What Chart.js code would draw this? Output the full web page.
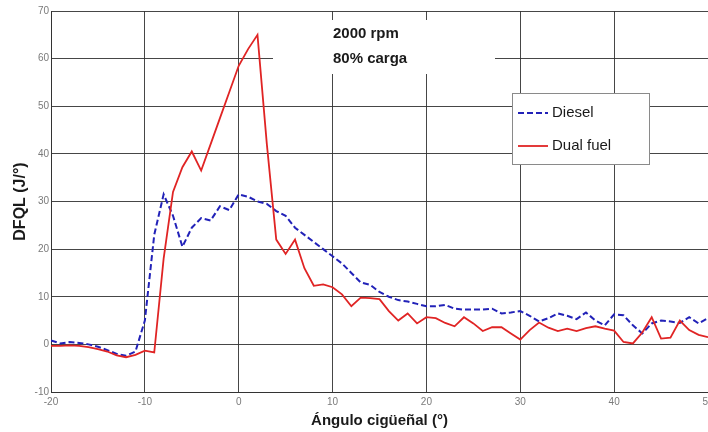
<!DOCTYPE html>
<html lang="es">
<head>
  <meta charset="UTF-8">
  <title>DFQL - 2000 rpm 80% carga</title>
  <script src="https://cdn.jsdelivr.net/npm/chart.js"></script>
  <style>
    html, body {
      margin: 0;
      padding: 0;
      background: #ffffff;
    }
    #wrap {
      width: 708px;
      height: 432px;
      position: relative;
    }
  </style>
</head>
<body>
  <div id="wrap">
    <canvas id="dfqlChart" width="708" height="432"></canvas>
  </div>

  <script>
    // Crank angle (deg), one sample per degree
    const angles = [
      -20, -19, -18, -17, -16, -15, -14, -13, -12, -11,
      -10, -9, -8, -7, -6, -5, -4, -3, -2, -1,
      0, 1, 2, 3, 4, 5, 6, 7, 8, 9,
      10, 11, 12, 13, 14, 15, 16, 17, 18, 19,
      20, 21, 22, 23, 24, 25, 26, 27, 28, 29,
      30, 31, 32, 33, 34, 35, 36, 37, 38, 39,
      40, 41, 42, 43, 44, 45, 46, 47, 48, 49, 50
    ];

    // Heat release rate (J/deg)
    const diesel = [
      0.8, 0.2, 0.5, 0.3, 0, -0.5, -1.2, -2, -2.4, -1.5,
      5, 23, 31.5, 27, 20.5, 24.5, 26.5, 26, 29, 28.2,
      31.5, 31, 30, 29.5, 28, 27, 24.5, 23, 21.5, 20,
      18.5, 17, 15, 13, 12.5, 11, 10, 9.3, 9, 8.5,
      8, 8, 8.3, 7.5, 7.3, 7.3, 7.3, 7.5, 6.5, 6.7,
      7, 6, 4.8, 5.5, 6.5, 6, 5.3, 6.7, 5, 4,
      6.3, 6.1, 4, 2.3, 4.4, 5, 4.8, 4.5, 5.7, 4.4, 5.5
    ];

    const dualFuel = [
      -0.3, -0.3, -0.2, -0.3, -0.6, -1, -1.5, -2.3, -2.7, -2.2,
      -1.3, -1.7, 18, 32, 37.2, 40.5, 36.5, 42, 47.5, 53,
      58.5, 62, 65, 42, 22, 19, 22, 16, 12.3, 12.6,
      12, 10.5, 8, 9.8, 9.7, 9.5, 7, 5, 6.5, 4.4,
      5.7, 5.5, 4.5, 3.8, 5.7, 4.4, 2.8, 3.6, 3.6, 2.3,
      1, 3, 4.6, 3.5, 2.8, 3.3, 2.8, 3.4, 3.8, 3.3,
      2.9, 0.5, 0.2, 2.5, 5.7, 1.2, 1.4, 5, 3, 2, 1.5
    ];

    const xTicks = [-20, -10, 0, 10, 20, 30, 40, 50];
    const yTicks = [-10, 0, 10, 20, 30, 40, 50, 60, 70];

    const noteLines = ['2000 rpm', '80% carga'];

    const toPoints = (vals) => vals.map((v, i) => ({ x: angles[i], y: v }));

    const fontFamily = '"Liberation Sans", Arial, sans-serif';

    // White box with the operating condition, drawn over the grid
    const notePlugin = {
      id: 'note',
      beforeDatasetsDraw(chart) {
        const { ctx } = chart;
        ctx.save();
        ctx.fillStyle = '#ffffff';
        ctx.fillRect(273, 20, 222, 54);
        ctx.fillStyle = '#1a1a1a';
        ctx.font = 'bold 15px ' + fontFamily;
        ctx.textBaseline = 'middle';
        ctx.fillText(noteLines[0], 333, 34);
        ctx.fillText(noteLines[1], 333, 59);
        ctx.restore();
      }
    };

    // Boxed legend placed inside the plot
    const legendBoxPlugin = {
      id: 'legendBox',
      afterDatasetsDraw(chart) {
        const { ctx } = chart;
        const x = 512, y = 93, w = 137, h = 71;
        ctx.save();
        ctx.fillStyle = '#ffffff';
        ctx.fillRect(x, y, w, h);
        ctx.strokeStyle = '#8a8a8a';
        ctx.lineWidth = 1;
        ctx.strokeRect(x + 0.5, y + 0.5, w, h);
        ctx.font = '15px ' + fontFamily;
        ctx.textBaseline = 'middle';
        chart.data.datasets.forEach((ds, i) => {
          const ly = y + 20 + i * 33;
          ctx.strokeStyle = ds.borderColor;
          ctx.lineWidth = ds.borderWidth;
          ctx.setLineDash(ds.borderDash || []);
          ctx.beginPath();
          ctx.moveTo(x + 6, ly);
          ctx.lineTo(x + 36, ly);
          ctx.stroke();
          ctx.setLineDash([]);
          ctx.fillStyle = '#1a1a1a';
          ctx.fillText(ds.label, x + 40, ly);
        });
        ctx.restore();
      }
    };

    const gridColor = 'rgba(50, 50, 50, 0.9)';
    const tickFont = { family: fontFamily, size: 10 };

    new Chart(document.getElementById('dfqlChart'), {
      type: 'line',
      data: {
        datasets: [
          {
            label: 'Diesel',
            data: toPoints(diesel),
            borderColor: '#2222b8',
            borderWidth: 2,
            borderDash: [6, 3],
            pointRadius: 0,
            tension: 0,
            order: 2
          },
          {
            label: 'Dual fuel',
            data: toPoints(dualFuel),
            borderColor: '#e02424',
            borderWidth: 1.8,
            pointRadius: 0,
            tension: 0,
            order: 1
          }
        ]
      },
      options: {
        responsive: false,
        animation: false,
        layout: { padding: { top: 11, right: -3, left: 0, bottom: 0 } },
        plugins: {
          legend: { display: false },
          tooltip: { enabled: false }
        },
        scales: {
          x: {
            type: 'linear',
            min: -20,
            max: 50,
            afterBuildTicks: (s) => { s.ticks = xTicks.map(v => ({ value: v })); },
            afterFit: (s) => { s.height = 40; s.paddingLeft = 0; s.paddingRight = 0; },
            grid: { color: gridColor, drawTicks: false },
            border: { color: gridColor },
            ticks: { color: '#7a7a7a', font: tickFont, padding: 4, maxRotation: 0 },
            title: {
              display: true,
              text: 'Ángulo cigüeñal (°)',
              color: '#1a1a1a',
              font: { family: fontFamily, size: 15, weight: 'bold' },
              padding: { top: 0, bottom: 2 }
            }
          },
          y: {
            min: -10,
            max: 70,
            afterBuildTicks: (s) => { s.ticks = yTicks.map(v => ({ value: v })); },
            afterFit: (s) => { s.width = 51; s.paddingTop = 0; s.paddingBottom = 0; },
            grid: { color: gridColor, drawTicks: false },
            border: { color: gridColor },
            ticks: { color: '#7a7a7a', font: tickFont, padding: 2 },
            title: {
              display: true,
              text: 'DFQL (J/°)',
              color: '#1a1a1a',
              font: { family: fontFamily, size: 16, weight: 'bold' },
              padding: { top: 11, bottom: 0 }
            }
          }
        }
      },
      plugins: [notePlugin, legendBoxPlugin]
    });
  </script>
</body>
</html>
